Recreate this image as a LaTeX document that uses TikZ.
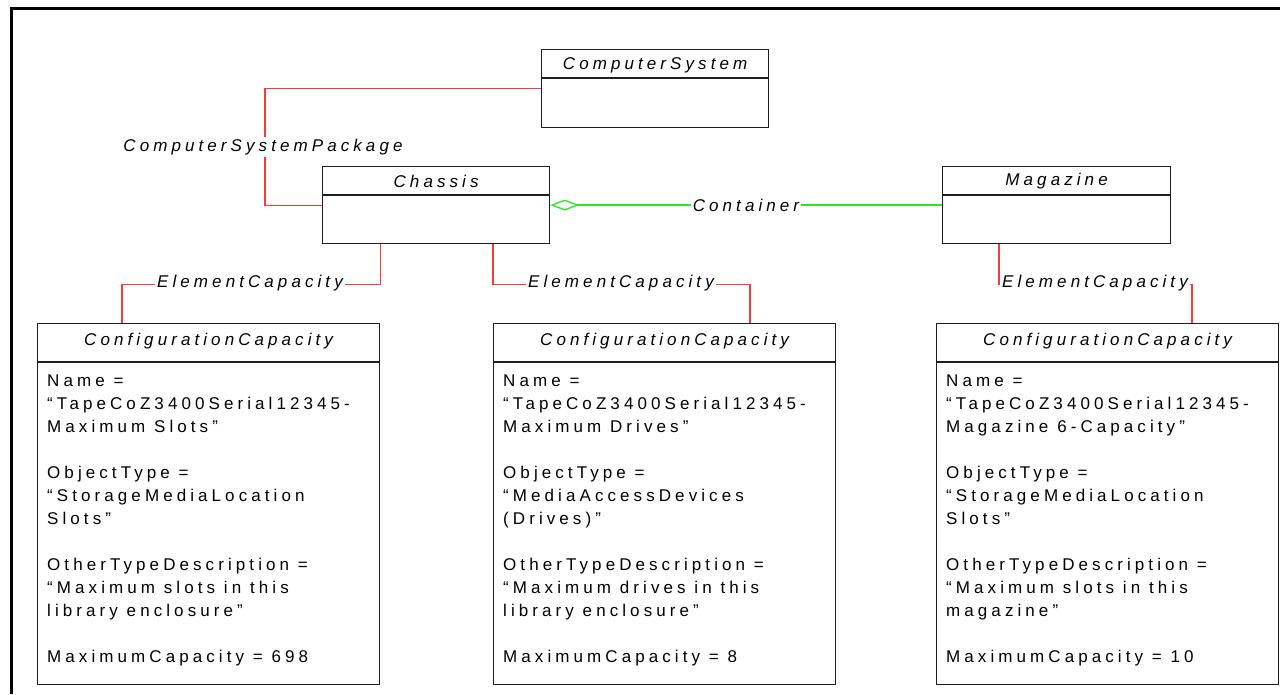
\documentclass[tikz,border=0pt]{standalone}
\usepackage{fontspec}
\setmainfont{Liberation Sans}
\newfontfamily\spfont[LetterSpace=24]{Liberation Sans}
\usetikzlibrary{arrows.meta}
\definecolor{boxc}{RGB}{30,30,30}
\definecolor{relred}{RGB}{245,60,60}
\definecolor{aggreen}{RGB}{40,230,40}
\begin{document}
\begin{tikzpicture}[x=1pt,y=-1pt,
  cls/.style={draw=boxc, line width=1.2pt, anchor=north west, inner sep=0pt},
  divider/.style={draw=boxc, line width=1.2pt},
  title/.style={font=\fontsize{17}{20}\selectfont\spfont\itshape, inner sep=0pt},
  body/.style={font=\fontsize{17}{23}\selectfont\spfont, align=left, anchor=north west, inner sep=0pt},
  lbl/.style={font=\fontsize{17}{20}\selectfont\spfont\itshape, fill=white, inner sep=2pt},
  rel/.style={draw=relred, line width=1.2pt},
  agg/.style={draw=aggreen, line width=1.3pt, {Diamond[open,length=29pt,width=11pt,fill=white]}-}
]
\useasboundingbox (0,0) rectangle (1280,694);
\draw[line width=3pt] (11,694) -- (11,8) -- (1281,8);

% classes
\node[cls, minimum width=227pt, minimum height=78pt] (cs) at (541,49) {};
\node[cls, minimum width=227pt, minimum height=77pt] (chassis) at (322,166) {};
\node[cls, minimum width=228pt, minimum height=77pt] (magazine) at (942,166) {};
\node[cls, minimum width=342pt, minimum height=361pt] (cc1) at (37,323) {};
\node[cls, minimum width=342pt, minimum height=361pt] (cc2) at (493,323) {};
\node[cls, minimum width=342pt, minimum height=361pt] (cc3) at (936,323) {};

\draw[divider] ([yshift=-29pt]cs.north west) -- ([yshift=-29pt]cs.north east);
\draw[divider] ([yshift=-29pt]chassis.north west) -- ([yshift=-29pt]chassis.north east);
\draw[divider] ([yshift=-29pt]magazine.north west) -- ([yshift=-29pt]magazine.north east);
\draw[divider] ([yshift=-39pt]cc1.north west) -- ([yshift=-39pt]cc1.north east);
\draw[divider] ([yshift=-39pt]cc2.north west) -- ([yshift=-39pt]cc2.north east);
\draw[divider] ([yshift=-39pt]cc3.north west) -- ([yshift=-39pt]cc3.north east);

\node[title] (cst) at ([yshift=-16pt]cs.north) {ComputerSystem};
\node[title] (chat) at ([yshift=-15pt]chassis.north) {Chassis};
\node[title] (magt) at ([yshift=-15pt]magazine.north) {Magazine};
\node[title] (cc1t) at ([yshift=-18pt]cc1.north) {ConfigurationCapacity};
\node[title] (cc2t) at ([yshift=-18pt]cc2.north) {ConfigurationCapacity};
\node[title] (cc3t) at ([yshift=-18pt]cc3.north) {ConfigurationCapacity};

\node[body] (cc1b) at ([xshift=10pt,yshift=-52pt]cc1.north west) {Name =\\“TapeCoZ3400Serial12345-\\Maximum Slots”\\[23pt]ObjectType =\\“StorageMediaLocation\\Slots”\\[23pt]OtherTypeDescription =\\“Maximum slots in this\\library enclosure”\\[23pt]MaximumCapacity = 698};
\node[body] (cc2b) at ([xshift=10pt,yshift=-52pt]cc2.north west) {Name =\\“TapeCoZ3400Serial12345-\\Maximum Drives”\\[23pt]ObjectType =\\“MediaAccessDevices\\(Drives)”\\[23pt]OtherTypeDescription =\\“Maximum drives in this\\library enclosure”\\[23pt]MaximumCapacity = 8};
\node[body] (cc3b) at ([xshift=10pt,yshift=-52pt]cc3.north west) {Name =\\“TapeCoZ3400Serial12345-\\Magazine 6-Capacity”\\[23pt]ObjectType =\\“StorageMediaLocation\\Slots”\\[23pt]OtherTypeDescription =\\“Maximum slots in this\\magazine”\\[23pt]MaximumCapacity = 10};

% connectors
\draw[rel] (cs.west) -- ++(-276,0) |- (chassis.west);
\node[lbl] (csp) at (263,147) {ComputerSystemPackage};

\draw[agg] (chassis.east) -- (magazine.west);
\node[lbl] (cont) at (746,205) {Container};

\draw[rel] (chassis.south -| cc1.east) -- ++(0,40) -| ([xshift=85pt]cc1.north west);
\node[lbl] (ec1) at (250,283) {ElementCapacity};

\draw[rel] (chassis.south -| cc2.west) -- ++(0,40) -| ([xshift=257pt]cc2.north west);
\node[lbl] (ec2) at (621,283) {ElementCapacity};

\draw[rel] ([xshift=57pt]magazine.south west) -- ++(0,40) -| ([xshift=256pt]cc3.north west);
\node[lbl] (ec3) at (1095,283) {ElementCapacity};
\end{tikzpicture}
\end{document}
